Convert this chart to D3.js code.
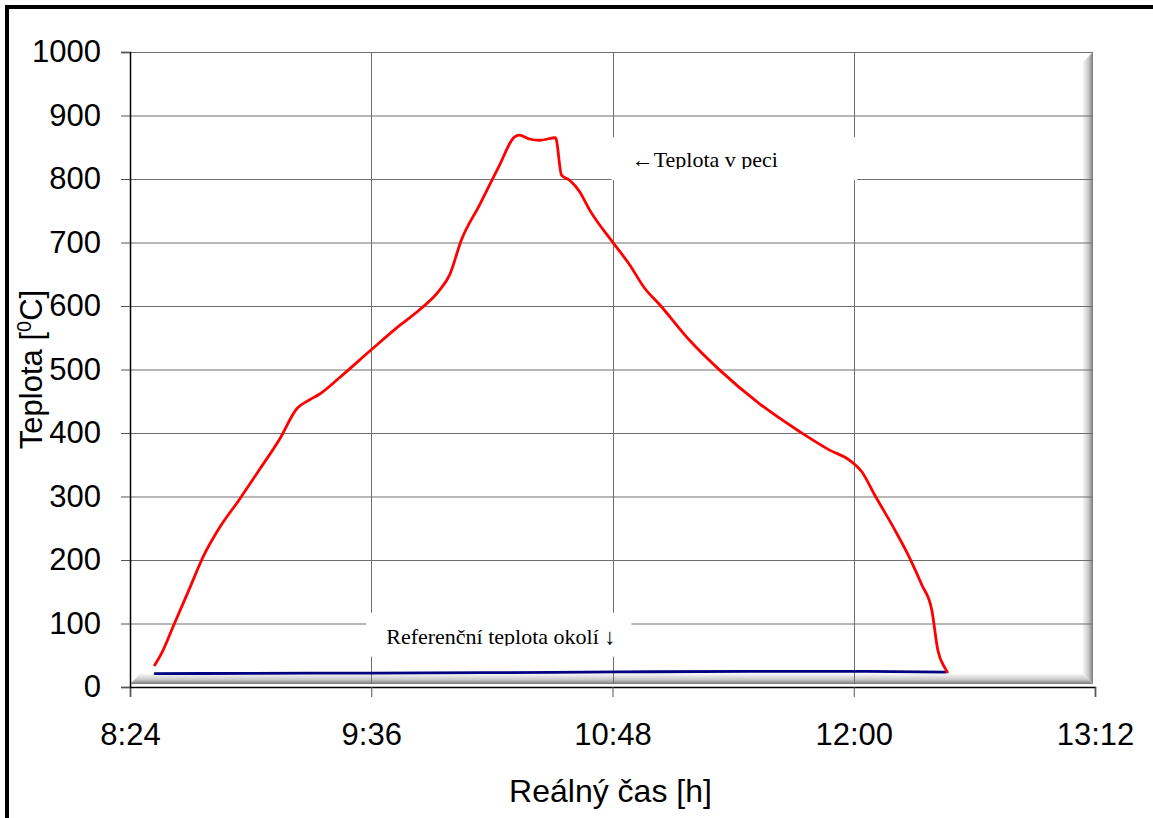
<!DOCTYPE html>
<html>
<head>
<meta charset="utf-8">
<script src="https://cdn.jsdelivr.net/npm/d3@7"></script>
<style>
  body { margin: 0; background: #fff; }
  .tick text { font-family: "Liberation Sans", Arial, sans-serif; }
</style>
</head>
<body>
<div class="chart"></div>
<script>
// Data
var pecTimes = ["8:31:12","8:33:36","8:37:06","8:41:36","8:46:06","8:50:36","8:56:36","9:02:36","9:08:30",
  "9:13:54","9:17:30","9:20:30","9:26:30","9:36:00","9:44:24","9:50:24","9:56:24","9:59:24","10:02:54",
  "10:08:18","10:14:18","10:18:42","10:20:12","10:23:12","10:26:12","10:31:00","10:32:48","10:35:12",
  "10:38:12","10:41:12","10:48:00","10:53:06","10:57:36","11:02:06","11:11:00","11:20:00","11:31:54",
  "11:43:54","11:52:48","11:58:48","12:02:24","12:06:18","12:12:18","12:16:42","12:20:18","12:23:18",
  "12:25:06","12:27:12","12:28:06"];
var pecTemps = [33, 55, 98, 153, 208, 250, 295, 342, 389, 439, 452, 461, 487, 531, 569, 594, 625, 649, 704,
  759, 822, 866, 869, 863, 861, 865, 806, 798, 780, 751, 701, 665, 628, 602, 546, 499, 446, 402, 373,
  357, 339, 302, 247, 203, 161, 121, 58, 30, 22];

var okoliTimes = ["8:31:12","9:00:00","9:36:00","10:10:00","10:30:00","11:00:00","11:30:00","12:00:00","12:27:30"];
var okoliTemps = [21, 21.5, 22, 22.5, 23, 24, 24.5, 24.5, 23.5];

var tickLabels = ["8:24","9:36","10:48","12:00","13:12"];
var yTicks = [0,100,200,300,400,500,600,700,800,900,1000];

var svgWidth = 1153;
var svgHeight = 818;
var margin = { top: 52, right: 58, bottom: 131, left: 130 };
var width = svgWidth - margin.left - margin.right;
var height = svgHeight - margin.top - margin.bottom;

var parseTime = d3.timeParse("%H:%M:%S");
var parseTick = d3.timeParse("%H:%M");

var pec = pecTimes.map((t, i) => ({ t: parseTime(t), v: pecTemps[i] }));
var okoli = okoliTimes.map((t, i) => ({ t: parseTime(t), v: okoliTemps[i] }));
var tickDates = tickLabels.map(parseTick);

var svg = d3.select(".chart")
  .append("svg")
  .attr("width", svgWidth)
  .attr("height", svgHeight);

// outer frame
svg.append("rect")
  .attr("x", 7).attr("y", 7)
  .attr("width", svgWidth + 10).attr("height", svgHeight + 10)
  .attr("fill", "none")
  .attr("stroke", "#000")
  .attr("stroke-width", 4);

var defs = svg.append("defs");
var gRight = defs.append("linearGradient").attr("id", "gRight").attr("x1", 0).attr("x2", 1).attr("y1", 0).attr("y2", 0);
gRight.append("stop").attr("offset", "0%").attr("stop-color", "#fff");
gRight.append("stop").attr("offset", "60%").attr("stop-color", "#c8c8c8");
gRight.append("stop").attr("offset", "100%").attr("stop-color", "#7a7a7a");
var gBottom = defs.append("linearGradient").attr("id", "gBottom").attr("x1", 0).attr("x2", 0).attr("y1", 0).attr("y2", 1);
gBottom.append("stop").attr("offset", "0%").attr("stop-color", "#fff");
gBottom.append("stop").attr("offset", "60%").attr("stop-color", "#c8c8c8");
gBottom.append("stop").attr("offset", "100%").attr("stop-color", "#7a7a7a");

var chartGroup = svg.append("g")
  .attr("transform", `translate(${margin.left}, ${margin.top})`);

var x = d3.scaleTime()
  .domain([tickDates[0], tickDates[tickDates.length - 1]])
  .range([0, width]);

var y = d3.scaleLinear()
  .domain([0, 1000])
  .range([height, 0]);

// shadow strips (right and bottom) of the plot area
var inner = width - 2;
chartGroup.append("path")
  .attr("d", `M${inner - 11},${11} L${inner},0 L${inner},${height - 3} L${inner - 11},${height - 14} Z`)
  .attr("fill", "url(#gRight)");
chartGroup.append("path")
  .attr("d", `M0,${height - 3} L11,${height - 14} L${inner - 11},${height - 14} L${inner},${height - 3} Z`)
  .attr("fill", "url(#gBottom)");

// gridlines
chartGroup.append("g")
  .selectAll("line")
  .data(yTicks.slice(1))
  .enter()
  .append("line")
  .attr("x1", 0).attr("x2", inner)
  .attr("y1", d => y(d) + 0.5).attr("y2", d => y(d) + 0.5)
  .attr("stroke", "#6e6e6e")
  .attr("stroke-width", 1);

chartGroup.append("g")
  .selectAll("line")
  .data(tickDates.slice(1, -1))
  .enter()
  .append("line")
  .attr("x1", d => Math.round(x(d)) + 0.5).attr("x2", d => Math.round(x(d)) + 0.5)
  .attr("y1", 0).attr("y2", height - 3)
  .attr("stroke", "#6e6e6e")
  .attr("stroke-width", 1);

// annotation boxes
function note(t0, t1, v, text, h, id) {
  var bx = x(parseTime(t0)), bw = x(parseTime(t1)) - bx;
  var by = y(v);
  chartGroup.append("rect")
    .attr("x", bx).attr("y", by)
    .attr("width", bw).attr("height", h)
    .attr("fill", "#fff");
  defs.append("clipPath").attr("id", id)
    .append("rect")
    .attr("x", bx + margin.left).attr("y", by + margin.top)
    .attr("width", bw).attr("height", h - 11);
  svg.append("text")
    .attr("clip-path", `url(#${id})`)
    .attr("x", bx + margin.left + 20)
    .attr("y", by + margin.top + h - 13)
    .attr("font-family", "'Liberation Serif', 'Times New Roman', serif")
    .attr("font-size", "22px")
    .attr("fill", "#000")
    .text(text);
}
note("10:47:45", "12:01:00", 866, "\u2190Teplota v peci", 43, "clipPec");
note("9:34:30", "10:53:40", 117, "Referenční teplota okolí \u2193", 44, "clipOkoli");

// lines
var line = d3.line()
  .x(d => x(d.t))
  .y(d => y(d.v))
  .curve(d3.curveMonotoneX);

chartGroup.append("path")
  .datum(okoli)
  .attr("d", line)
  .attr("fill", "none")
  .attr("stroke", "#000080")
  .attr("stroke-width", 2.8);

chartGroup.append("path")
  .datum(pec)
  .attr("d", line)
  .attr("fill", "none")
  .attr("stroke", "#ff0000")
  .attr("stroke-width", 2.8);

// axes
var bottomAxis = d3.axisBottom(x)
  .tickValues(tickDates)
  .tickFormat(d3.timeFormat("%-H:%M"))
  .tickSize(10)
  .tickPadding(26);
var leftAxis = d3.axisLeft(y)
  .tickValues(yTicks)
  .tickFormat(d3.format("d"))
  .tickSize(9)
  .tickPadding(20);

var xg = chartGroup.append("g")
  .attr("transform", `translate(0, ${height})`)
  .call(bottomAxis);
var yg = chartGroup.append("g")
  .call(leftAxis);

[xg, yg].forEach(function(g) {
  g.select(".domain").attr("stroke", "#000").attr("stroke-width", 1.5);
  g.selectAll(".tick line").attr("stroke", "#555");
  g.selectAll(".tick text").attr("font-size", "31px").attr("fill", "#000");
});

// axis labels
svg.append("text")
  .attr("x", margin.left + width / 2 - 2)
  .attr("y", 802)
  .attr("text-anchor", "middle")
  .attr("font-family", "'Liberation Sans', Arial, sans-serif")
  .attr("font-size", "32px")
  .text("Reálný čas [h]");

var yt = svg.append("text")
  .attr("transform", `translate(42, ${margin.top + height / 2}) rotate(-90)`)
  .attr("text-anchor", "middle")
  .attr("font-family", "'Liberation Sans', Arial, sans-serif")
  .attr("font-size", "31px");
yt.append("tspan").text("Teplota [");
yt.append("tspan").attr("dy", -11).attr("font-size", "20px").text("0");
yt.append("tspan").attr("dy", 11).text("C]");
</script>
</body>
</html>
